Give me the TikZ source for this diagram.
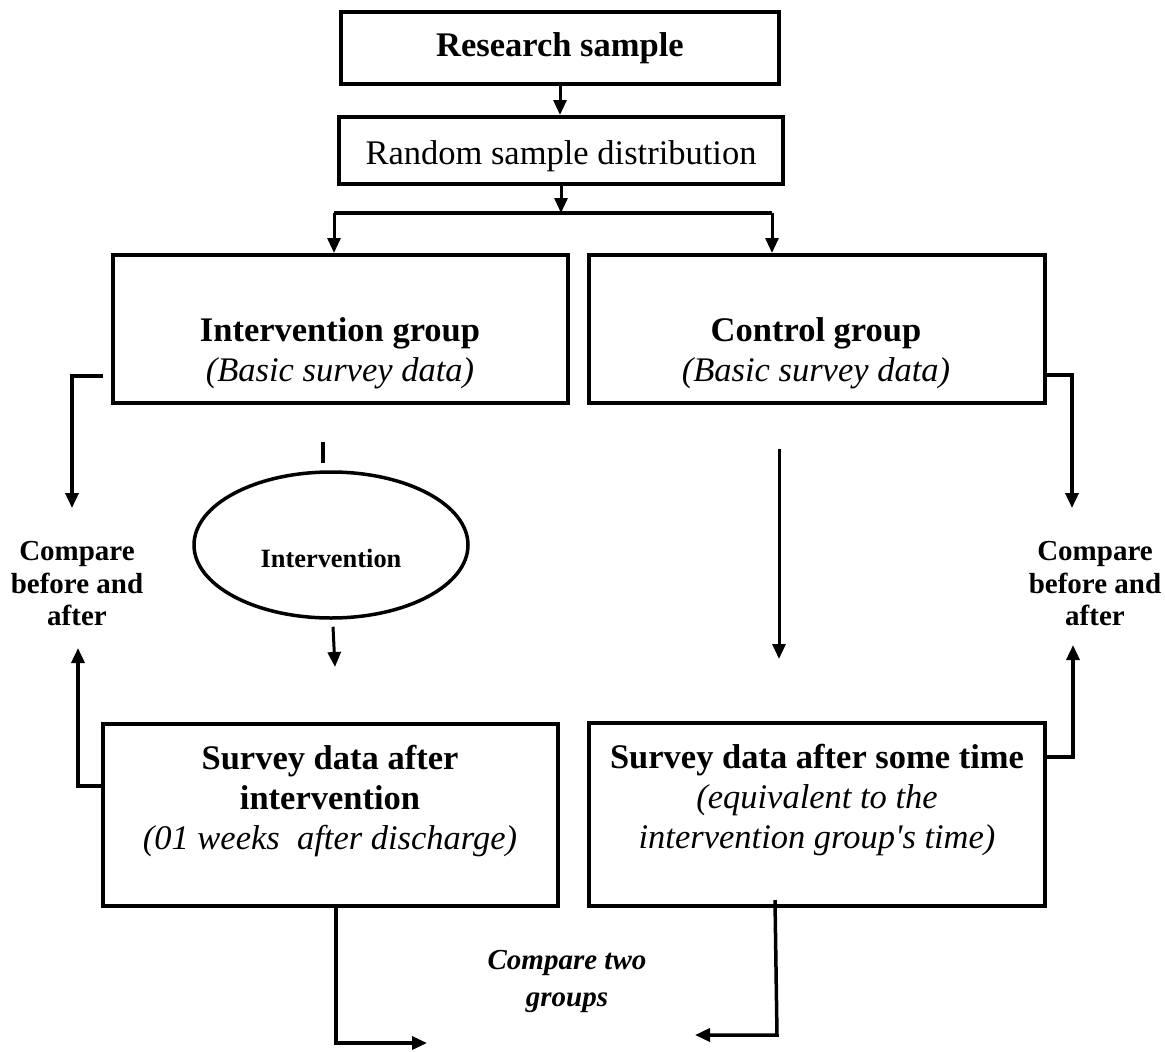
\documentclass[tikz,border=0pt]{standalone}
\usepackage{fontspec}
\setmainfont{Liberation Serif}[Ligatures=TeXOff]
\usetikzlibrary{arrows.meta,shapes.geometric}
\begin{document}
\begin{tikzpicture}[x=1pt,y=-1pt,
  box/.style={draw,line width=4pt,inner sep=0pt,rectangle},
  txt/.style={inner sep=0pt,align=center,font=\fontsize{34.5}{40}\selectfont},
  cmp/.style={inner sep=0pt,align=center,font=\fontsize{29}{32.5}\selectfont\bfseries},
  conn/.style={line width=3.5pt},
  arr/.style={line width=3pt,-{Triangle[length=15pt,width=13pt]}},
]
\useasboundingbox (0,0) rectangle (1165,1052);

% boxes
\node[box,minimum width=438pt,minimum height=72pt] (rs) at (560,48) {};
\node[box,minimum width=444pt,minimum height=67pt] (rd) at (561,150.5) {};
\node[box,minimum width=455pt,minimum height=148pt] (ig) at (340.5,329) {};
\node[box,minimum width=456pt,minimum height=148pt] (cg) at (817,329) {};
\node[box,minimum width=455pt,minimum height=182pt] (sa) at (330.5,815) {};
\node[box,minimum width=456pt,minimum height=183pt] (st) at (817,814.5) {};
\node[draw,ellipse,line width=3.5pt,minimum width=274pt,minimum height=146pt,inner sep=0pt] (el) at (331,545) {};

% texts
\node[txt] (rst) at (560,48.5) {\textbf{Research sample}};
\node[txt] (rdt) at (561,156.5) {Random sample distribution};
\node[txt] (igt) at (340,353.5) {\textbf{Intervention group}\\\textit{(Basic survey data)}};
\node[txt] (cgt) at (816,353.5) {\textbf{Control group}\\\textit{(Basic survey data)}};
\node[txt] (sat) at (330,801.5) {\textbf{Survey data after}\\\textbf{intervention}\\\textit{(01 weeks\ \ after discharge)}};
\node[txt] (stt) at (817,800) {\textbf{Survey data after some time}\\\textit{(equivalent to the}\\\textit{intervention group's time)}};
\node[inner sep=0pt,font=\fontsize{26.4}{30}\selectfont\bfseries] (elt) at (331,558) {Intervention};
\node[cmp] (cl) at (77,584) {Compare\\before and\\after};
\node[cmp] (cr) at (1095,584) {Compare\\before and\\after};
\node[inner sep=0pt,align=center,font=\fontsize{29}{37}\selectfont\bfseries\itshape] (ct) at (567,981.5) {Compare two\\groups};

% coordinates for connectors
\coordinate (bl) at (334,213);
\coordinate (br) at (772,213);
\coordinate (lb) at (103,376);
\coordinate (lt) at (72,508);
\coordinate (rb) at (1072,375);
\coordinate (rt) at (1072,508);
\coordinate (tk) at (323,442);
\coordinate (ea) at (335,667);
\coordinate (ca1) at (779,449);
\coordinate (ca2) at (779,659);
\coordinate (lu) at (78,786);
\coordinate (lut) at (78,648);
\coordinate (ru) at (1073,757);
\coordinate (rut) at (1073,645);
\coordinate (bl1) at (336,1043);
\coordinate (bl2) at (427,1043);
\coordinate (brs) at (775,900);
\coordinate (br1) at (777,1035);
\coordinate (br2) at (695,1035);

% connectors
\draw[arr] (rs.south) -- (rs.south |- rd.north);
\draw[arr] (rd.south) -- (rd.south |- bl);
\draw[conn,line width=4pt] (bl) -- (br);
\draw[arr] (bl) -- (bl |- ig.north);
\draw[arr] (br) -- (br |- cg.north);
\draw[arr,line width=3.5pt] (lb) -- (lb -| lt) -- (lt);
\draw[arr,line width=3.5pt] (cg.east |- rb) -- (rb) -- (rt);
\draw[conn] (tk) -- ++(0,21);
\draw[arr] ([xshift=2pt,yshift=-7pt]el.south) -- (ea);
\draw[arr] (ca1) -- (ca2);
\draw[arr,line width=3.5pt] (sa.west |- lu) -- (lu) -- (lut);
\draw[arr,line width=3.5pt] (st.east |- ru) -- (ru) -- (rut);
\draw[arr,line width=3.5pt] (bl1 |- sa.south) -- (bl1) -- (bl2);
\draw[arr,line width=3.5pt] (brs) -- (br1) -- (br2);
\end{tikzpicture}
\end{document}
